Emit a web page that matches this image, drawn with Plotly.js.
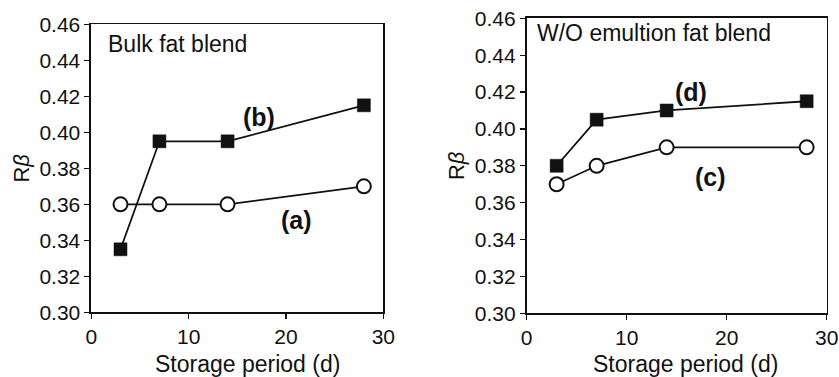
<!DOCTYPE html>
<html>
<head>
<meta charset="utf-8">
<script src="https://cdn.plot.ly/plotly-3.0.1.min.js"></script>
<style>html,body{margin:0;padding:0;background:#fff;}#chart{width:839px;height:377px;}</style>
</head>
<body>
<div id="chart"></div>
<script>
// Storage period (days)
const days = [3, 7, 14, 28];
// Bulk fat blend
const bulkA = [0.36, 0.36, 0.36, 0.37];    // (a) open circles
const bulkB = [0.335, 0.395, 0.395, 0.415]; // (b) filled squares
// W/O emulsion fat blend
const woC = [0.37, 0.38, 0.39, 0.39];       // (c) open circles
const woD = [0.38, 0.405, 0.41, 0.415];     // (d) filled squares

const xTicks = [0, 10, 20, 30];
const yTicks = [0.30, 0.32, 0.34, 0.36, 0.38, 0.40, 0.42, 0.44, 0.46];
const yTickText = ["0.30","0.32","0.34","0.36","0.38","0.40","0.42","0.44","0.46"];

const FONT = "Liberation Sans, Arial, Helvetica, sans-serif";

function circ(x, y, xa, ya) {
  return {x: x, y: y, xaxis: xa, yaxis: ya, mode: "lines+markers", type: "scatter",
    line: {color: "#111", width: 1.8},
    marker: {symbol: "circle", size: 14, color: "#fff", line: {color: "#111", width: 2}},
    showlegend: false, hoverinfo: "skip", cliponaxis: false};
}
function sq(x, y, xa, ya) {
  return {x: x, y: y, xaxis: xa, yaxis: ya, mode: "lines+markers", type: "scatter",
    line: {color: "#111", width: 1.8},
    marker: {symbol: "square", size: 13, color: "#111", line: {color: "#111", width: 0.5}},
    showlegend: false, hoverinfo: "skip", cliponaxis: false};
}

const data = [
  circ(days, bulkA, "x", "y"),
  sq(days, bulkB, "x", "y"),
  circ(days, woC, "x2", "y2"),
  sq(days, woD, "x2", "y2")
];

function xax(domain, anchor) {
  return {domain: domain, anchor: anchor, range: [0, 30], tickvals: xTicks,
    ticks: "outside", ticklen: 5, tickwidth: 1.3, tickcolor: "#111",
    showline: true, linecolor: "#111", linewidth: 1.8, mirror: true,
    showgrid: false, zeroline: false, fixedrange: true,
    tickfont: {family: FONT, size: 21, color: "#111"},
    automargin: false};
}
function yax(domain, anchor) {
  return {domain: domain, anchor: anchor, range: [0.30, 0.46], tickvals: yTicks, ticktext: yTickText,
    ticks: "outside", ticklen: 5, tickwidth: 1.3, tickcolor: "#111",
    showline: true, linecolor: "#111", linewidth: 1.8, mirror: true,
    showgrid: false, zeroline: false, fixedrange: true,
    tickfont: {family: FONT, size: 21, color: "#111"},
    title: {text: "R<i>β</i>", font: {family: FONT, size: 22, color: "#111"}, standoff: 4},
    automargin: false};
}

const ann = (text, x, y, xref, yref, bold, xanchor) => ({
  text: bold ? "<b>" + text + "</b>" : text, x: x, y: y, xref: xref, yref: yref,
  showarrow: false, xanchor: xanchor || "center", yanchor: "middle",
  font: {family: FONT, size: bold ? 25 : 23, color: "#111"}
});

const layout = {
  width: 839, height: 377,
  margin: {l: 0, r: 0, t: 0, b: 0},
  paper_bgcolor: "#fff", plot_bgcolor: "#fff",
  xaxis: xax([0.1088, 0.4569], "y"),
  yaxis: yax([0.1716, 0.9355], "x"),
  xaxis2: xax([0.6277, 0.9853], "y2"),
  yaxis2: yax([0.1690, 0.9515], "x2"),
  annotations: [
    ann("Bulk fat blend", 1.5, 0.449, "x", "y", false, "left"),
    ann("(b)", 17.2, 0.4085, "x", "y", true),
    ann("(a)", 21.1, 0.3513, "x", "y", true),
    ann("W/O emultion fat blend", 0.8, 0.452, "x2", "y2", false, "left"),
    ann("(d)", 16.4, 0.420, "x2", "y2", true),
    ann("(c)", 18.4, 0.374, "x2", "y2", true),
    ann("Storage period (d)", 16.0, 0.034, "x", "paper", false),
    ann("Storage period (d)", 15.9, 0.034, "x2", "paper", false)
  ],
  showlegend: false
};

Plotly.newPlot("chart", data, layout, {staticPlot: true, displayModeBar: false});
</script>
</body>
</html>
